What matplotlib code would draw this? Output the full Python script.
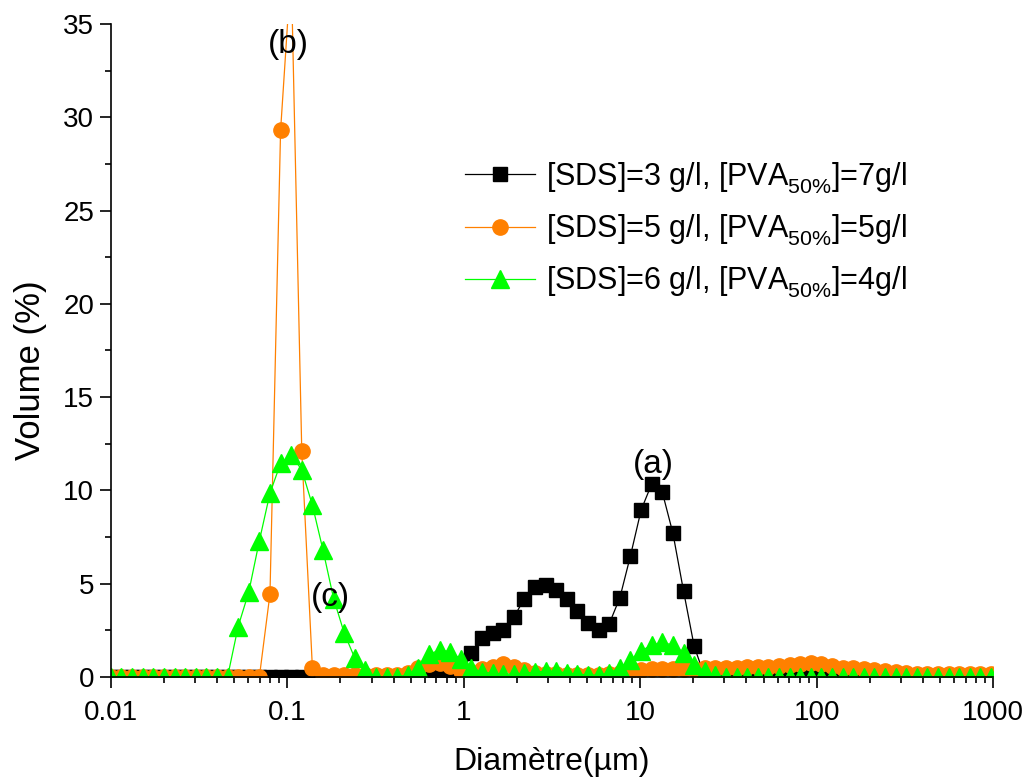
import matplotlib
matplotlib.use('Agg')
import matplotlib.pyplot as plt
from matplotlib.ticker import LogLocator, MultipleLocator, FixedLocator, FixedFormatter

plt.rcParams['font.family'] = ['Liberation Sans', 'DejaVu Sans']
plt.rcParams['mathtext.fontset'] = 'custom'
plt.rcParams['mathtext.rm'] = 'Liberation Sans'
plt.rcParams['mathtext.it'] = 'Liberation Sans'
# drop the subscripts a bit lower, like the original
try:
    import matplotlib._mathtext as _mt
    _mt.FontConstantsBase.sub1 = 0.5
except Exception:
    pass

# particle size bins (um)
diam = [0.01, 0.01148, 0.01319, 0.01515, 0.0174, 0.01998, 0.02295, 0.02635, 0.03027, 0.03476,
        0.0399, 0.04583, 0.05263, 0.06044, 0.06941, 0.07971, 0.09154, 0.1051, 0.1207, 0.1387,
        0.1592, 0.1829, 0.21, 0.2412, 0.277, 0.3181, 0.3653, 0.4195, 0.4818, 0.5533,
        0.6353, 0.7297, 0.838, 0.9623, 1.105, 1.269, 1.457, 1.674, 1.922, 2.207,
        2.535, 2.911, 3.343, 3.839, 4.409, 5.063, 5.815, 6.678, 7.669, 8.807,
        10.12, 11.62, 13.34, 15.32, 17.6, 20.21, 23.21, 26.65, 30.61, 35.15,
        40.36, 46.36, 53.24, 61.14, 70.21, 80.63, 92.6, 106.3, 122.1, 140.3,
        161.1, 185.0, 212.5, 244.0, 280.2, 321.8, 369.6, 424.4, 487.4, 559.7,
        642.7, 738.1, 847.7, 973.4]

# (a) SDS 3 g/l, PVA 7 g/l
vol_a = [0, 0, 0, 0, 0, 0, 0, 0, 0, 0,
         0, 0, 0, 0, 0, 0, 0, 0, 0, 0,
         0, 0, 0, 0, 0, 0, 0, 0, 0, 0,
         0, 0, 0, 0, 1.3, 2.1, 2.35, 2.5, 3.2, 4.2,
         4.8, 4.9, 4.65, 4.2, 3.55, 2.9, 2.5, 2.85, 4.25, 6.5,
         8.95, 10.35, 9.9, 7.7, 4.6, 1.65, 0, 0, 0, 0,
         0, 0, 0, 0, 0, 0, 0, 0, 0, 0,
         0, 0, 0, 0, 0, 0, 0, 0, 0, 0,
         0, 0, 0, 0]

# (b) SDS 5 g/l, PVA 5 g/l
vol_b = [0, 0, 0, 0, 0, 0, 0, 0, 0, 0,
         0, 0, 0, 0, 0, 4.45, 29.3, 38.0, 12.1, 0.45,
         0.1, 0.1, 0.1, 0.1, 0.1, 0.1, 0.1, 0.1, 0.2, 0.5,
         0.7, 0.75, 0.6, 0.3, 0.25, 0.4, 0.55, 0.7, 0.55, 0.35,
         0.2, 0.15, 0.15, 0.1, 0.1, 0.1, 0.1, 0.15, 0.2, 0.3,
         0.35, 0.4, 0.4, 0.4, 0.4, 0.4, 0.45, 0.45, 0.5, 0.5,
         0.55, 0.55, 0.55, 0.6, 0.65, 0.7, 0.75, 0.7, 0.6, 0.5,
         0.45, 0.4, 0.35, 0.3, 0.25, 0.2, 0.15, 0.15, 0.15, 0.15,
         0.15, 0.15, 0.15, 0.15]

# (c) SDS 6 g/l, PVA 4 g/l
vol_c = [0, 0, 0, 0, 0, 0, 0, 0, 0, 0,
         0, 0, 2.7, 4.55, 7.3, 9.85, 11.45, 11.9, 11.1, 9.2,
         6.8, 4.2, 2.35, 1.0, 0.35, 0, 0, 0, 0.1, 0.5,
         1.2, 1.45, 1.35, 0.95, 0.5, 0.25, 0.2, 0.15, 0.15, 0.2,
         0.25, 0.3, 0.3, 0.2, 0.15, 0.1, 0.1, 0.2, 0.5, 0.9,
         1.4, 1.7, 1.85, 1.7, 1.3, 0.65, 0.3, 0.1, 0, 0,
         0, 0, 0, 0, 0, 0, 0, 0, 0, 0,
         0, 0, 0, 0, 0, 0, 0, 0, 0, 0,
         0, 0, 0, 0]

labels = [r'[SDS]=3 g/l, [PVA$_{\mathrm{50\%}}$]=7g/l',
          r'[SDS]=5 g/l, [PVA$_{\mathrm{50\%}}$]=5g/l',
          r'[SDS]=6 g/l, [PVA$_{\mathrm{50\%}}$]=4g/l']

fig = plt.figure(figsize=(10.27, 7.78), dpi=100)
ax = fig.add_axes([0.108, 0.130, 0.859, 0.839])

ax.plot(diam, vol_a, color='black', lw=0.9, marker='s', ms=10.5, label=labels[0])
ax.plot(diam, vol_b, color='#FF8000', lw=0.9, marker='o', ms=11, label=labels[1])
ax.plot(diam, vol_c, color='#00FF00', lw=0.9, marker='^', ms=13, label=labels[2])

ax.set_xscale('log')
ax.set_xlim(0.01, 1000)
ax.set_ylim(0, 35)

ax.xaxis.set_major_locator(FixedLocator([0.01, 0.1, 1, 10, 100, 1000]))
ax.xaxis.set_major_formatter(FixedFormatter(['0.01', '0.1', '1', '10', '100', '1000']))
ax.xaxis.set_minor_locator(LogLocator(base=10, subs=range(2, 10)))
ax.yaxis.set_major_locator(MultipleLocator(5))
ax.yaxis.set_minor_locator(MultipleLocator(2.5))

for s in ['top', 'right']:
    ax.spines[s].set_visible(False)
for s in ['left', 'bottom']:
    ax.spines[s].set_linewidth(1.2)
ax.tick_params(which='major', direction='out', length=8, width=1.2, labelsize=20)
ax.tick_params(which='minor', direction='out', length=4, width=1.2)
ax.tick_params(axis='x', pad=9)
ax.tick_params(axis='y', pad=4)

ax.set_xlabel('Diamètre(µm)', fontsize=23, labelpad=15)
ax.set_ylabel('Volume (%)', fontsize=25, labelpad=12)
ax.yaxis.label.set_y(0.47)

ax.text(0.1013, 33.9, '(b)', fontsize=24, ha='center', va='center')
ax.text(11.85, 11.36, '(a)', fontsize=24, ha='center', va='center')
ax.text(0.1754, 4.23, '(c)', fontsize=24, ha='center', va='center')

leg = ax.legend(loc='upper left', bbox_to_anchor=(465 / 1027, 1 - 160 / 778),
                bbox_transform=fig.transFigure, frameon=False, fontsize=22,
                numpoints=1, handlelength=2.3, handletextpad=0.35,
                labelspacing=0.55, borderpad=0, borderaxespad=0)

fig.savefig('out.png', dpi=100)
